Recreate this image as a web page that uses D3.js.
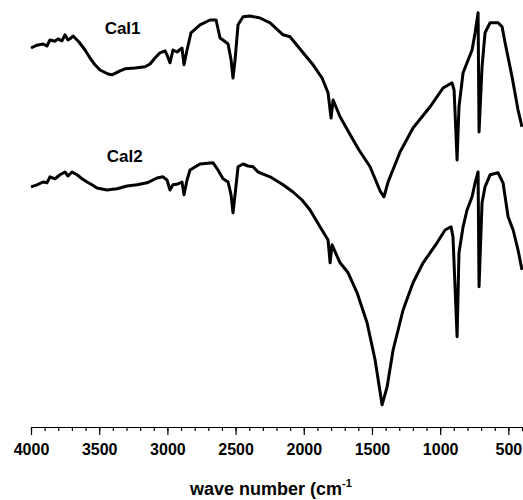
<!DOCTYPE html>
<html>
<head>
<meta charset="utf-8">
<script src="https://cdn.jsdelivr.net/npm/d3@7"></script>
<style>
  body { margin: 0; background: #fff; }
  svg { display: block; font-family: "Liberation Sans", Arial, sans-serif; font-weight: bold; }
</style>
</head>
<body>
<svg id="chart"></svg>
<script>
// wavenumber (cm-1) and transmittance (arb. units)
const cal1Wave = [4000, 3956, 3912, 3883, 3861, 3824, 3802, 3773, 3751, 3729, 3714, 3692, 3677, 3648, 3604, 3567, 3531, 3494, 3435, 3406, 3347, 3311, 3237, 3164, 3127, 3091, 3054, 3017, 3003, 2981, 2959, 2929, 2893, 2878, 2856, 2827, 2761, 2687, 2643, 2614, 2585, 2555, 2533, 2519, 2504, 2482, 2445, 2394, 2321, 2247, 2152, 2101, 2005, 1932, 1866, 1822, 1800, 1785, 1734, 1668, 1595, 1514, 1441, 1412, 1382, 1294, 1199, 1074, 979, 913, 898, 876, 862, 832, 795, 766, 744, 722, 715, 693, 671, 634, 575, 546, 524, 473, 429, 400];
const cal1T = [95.5, 96.2, 96.5, 96.0, 97.5, 97.2, 97.8, 97.3, 98.8, 97.5, 97.8, 98.5, 98.0, 97.0, 95.0, 93.0, 91.3, 90.0, 89.0, 88.8, 89.8, 90.3, 90.5, 90.8, 91.5, 93.0, 94.3, 94.8, 93.8, 91.8, 95.0, 94.5, 95.5, 91.3, 95.0, 99.3, 101.3, 102.5, 102.5, 98.0, 97.3, 96.5, 92.5, 88.0, 92.5, 101.3, 103.3, 103.5, 103.0, 101.8, 98.8, 98.3, 94.3, 91.3, 88.0, 84.3, 78.0, 82.5, 78.3, 74.3, 70.0, 65.8, 59.8, 58.3, 62.0, 69.5, 75.5, 80.8, 85.5, 86.8, 85.0, 67.5, 80.8, 89.3, 92.5, 95.0, 99.3, 104.3, 74.5, 90.8, 99.3, 101.8, 101.8, 100.8, 96.8, 88.3, 80.0, 75.8];

const cal2Wave = [4000, 3956, 3912, 3883, 3861, 3824, 3787, 3751, 3729, 3699, 3663, 3626, 3589, 3553, 3516, 3443, 3369, 3296, 3223, 3149, 3076, 3032, 3003, 2981, 2959, 2922, 2893, 2878, 2856, 2834, 2761, 2665, 2629, 2592, 2555, 2533, 2519, 2504, 2482, 2445, 2409, 2372, 2335, 2284, 2247, 2152, 2079, 2013, 1954, 1881, 1822, 1807, 1793, 1734, 1675, 1609, 1536, 1477, 1426, 1389, 1345, 1272, 1199, 1125, 1074, 1023, 964, 920, 906, 876, 862, 832, 803, 766, 744, 722, 715, 693, 671, 634, 575, 539, 502, 465, 429, 400];
const cal2T = [60.8, 61.3, 62.0, 61.8, 63.3, 62.8, 63.8, 64.5, 63.5, 64.5, 63.8, 62.8, 62.0, 61.3, 60.5, 60.0, 60.3, 61.0, 61.3, 61.8, 63.0, 63.3, 62.5, 60.0, 61.3, 61.5, 62.0, 58.8, 62.5, 65.0, 66.5, 66.8, 65.0, 62.8, 62.0, 58.8, 54.3, 58.8, 65.8, 66.5, 66.0, 65.8, 64.5, 63.8, 63.3, 61.3, 59.5, 57.5, 55.0, 50.8, 47.5, 41.8, 46.3, 41.8, 39.3, 34.3, 26.8, 17.5, 6.3, 10.8, 20.0, 30.0, 36.8, 41.8, 44.3, 46.8, 50.0, 50.8, 48.3, 23.3, 44.3, 50.8, 55.0, 58.3, 61.8, 64.5, 35.8, 56.8, 60.8, 63.8, 64.3, 61.8, 53.3, 50.0, 45.0, 40.0];

const seriesNames = ['Cal1', 'Cal2'];
const majorTicks = [4000, 3500, 3000, 2500, 2000, 1500, 1000, 500];
const minorTicks = d3.range(4000, 399, -100);

const w = 523;
const h = 500;
const svg = d3.select('#chart').attr('width', w).attr('height', h);

const xScale = d3.scaleLinear().domain([4000, 400]).range([31, 522]);
const yScale = d3.scaleLinear().domain([0, 105]).range([430, 10]);

const line = d3
  .line()
  .x((d) => xScale(d[0]))
  .y((d) => yScale(d[1]));

const series = [
  d3.zip(cal1Wave, cal1T),
  d3.zip(cal2Wave, cal2T)
];

svg
  .selectAll('path.spec')
  .data(series)
  .enter()
  .append('path')
  .attr('class', 'spec')
  .attr('d', line)
  .attr('fill', 'none')
  .attr('stroke', '#000')
  .attr('stroke-width', 3)
  .attr('stroke-linejoin', 'round');

// series labels, placed by wavenumber
const labelX = [3460, 3445];
const labelY = [34, 162];
svg
  .selectAll('text.lab')
  .data(seriesNames)
  .enter()
  .append('text')
  .attr('class', 'lab')
  .attr('x', (d, i) => xScale(labelX[i]))
  .attr('y', (d, i) => labelY[i])
  .attr('font-size', 17)
  .text((d) => d);

// x axis: minor then major ticks
const axisY = 427;
svg
  .append('g')
  .attr('transform', `translate(0,${axisY})`)
  .call(d3.axisBottom(xScale).tickValues(minorTicks).tickSize(4).tickSizeOuter(0).tickFormat(''))
  .call((g) => g.select('.domain').remove());

const xAxis = svg
  .append('g')
  .attr('transform', `translate(0,${axisY})`)
  .call(
    d3.axisBottom(xScale)
      .tickValues(majorTicks)
      .tickSize(8)
      .tickSizeOuter(0)
      .tickPadding(9)
      .tickFormat(d3.format('d'))
  );

svg.selectAll('.tick line, .domain').attr('stroke', '#000').attr('stroke-width', 1.2);
xAxis
  .selectAll('.tick text')
  .attr('font-family', '"Liberation Sans", Arial, sans-serif')
  .attr('font-weight', 'bold')
  .attr('font-size', 16)
  .attr('fill', '#000');

const title = svg
  .append('text')
  .attr('x', 190)
  .attr('y', 495)
  .attr('font-size', 18);
title.append('tspan').text('wave number (cm');
title.append('tspan').attr('font-size', 11).attr('dy', -8).text('-1');
</script>
</body>
</html>
